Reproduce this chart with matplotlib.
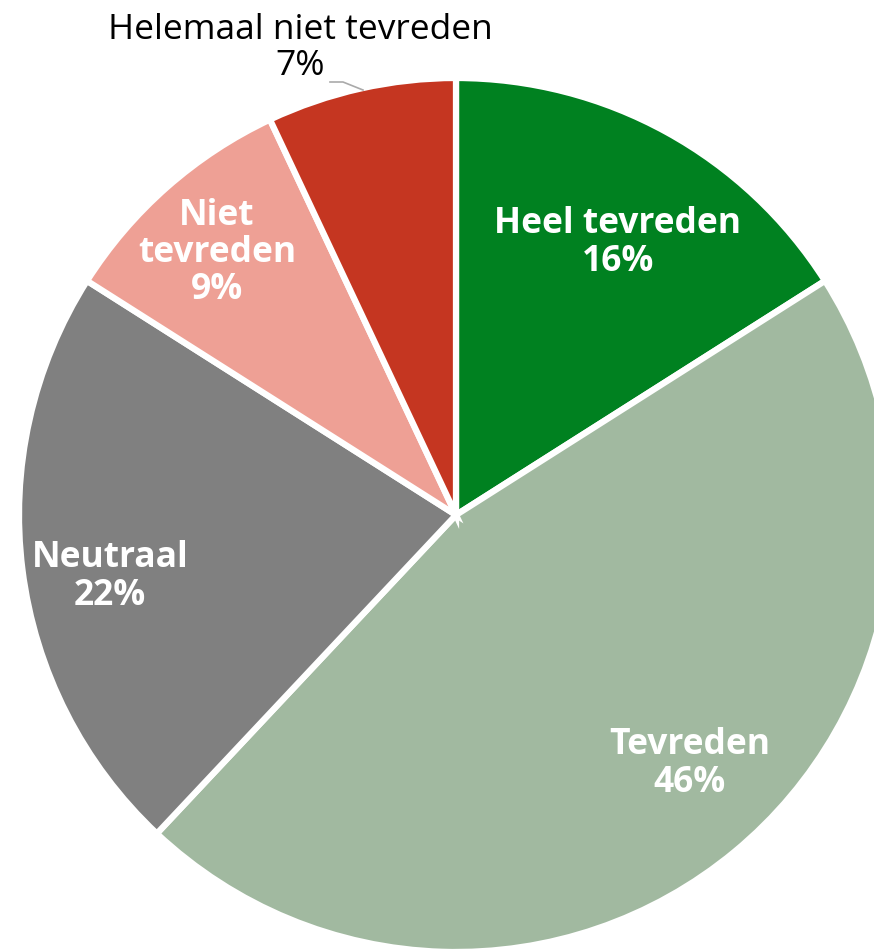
import matplotlib.pyplot as plt

labels = ['Heel tevreden', 'Tevreden', 'Neutraal', 'Niet\ntevreden', 'Helemaal niet tevreden']
values = [16, 46, 22, 9, 7]
colors = ['#008120', '#a1b9a0', '#808080', '#eea095', '#c53621']

plt.rcParams['font.family'] = ['Open Sans', 'DejaVu Sans']

fig = plt.figure(figsize=(8.74, 9.5), dpi=100)
ax = fig.add_axes([0, 0, 1, 1])

cx, cy, r = 456, 950 - 515, 437
wedges, _ = ax.pie(values, colors=colors, startangle=90, counterclock=False,
                   radius=r, center=(cx, cy), explode=[0, 0.008, 0, 0, 0],
                   wedgeprops=dict(edgecolor='white', linewidth=4.5))
ax.set_xlim(0, 874)
ax.set_ylim(0, 950)
ax.set_aspect('equal')
ax.axis('off')

# inside labels (positions in pixels from the top-left)
inside = {0: (618, 243), 1: (690, 764), 2: (110, 577), 3: (217, 253)}
for i, (x, y) in inside.items():
    ax.text(x, 950 - y, f'{labels[i]}\n{values[i]}%', color='white', fontsize=25.5,
            fontweight='bold', ha='center', va='center', linespacing=1.05)

# outside label for the smallest slice
ax.text(300, 950 - 48, f'{labels[4]}\n{values[4]}%', color='black', fontsize=25.5,
        ha='center', va='center', linespacing=1.05)
ax.plot([330, 343, 363], [950 - 82, 950 - 82, 950 - 90], color='#aaaaaa', lw=1.2)

fig.savefig('out.png', dpi=100)
